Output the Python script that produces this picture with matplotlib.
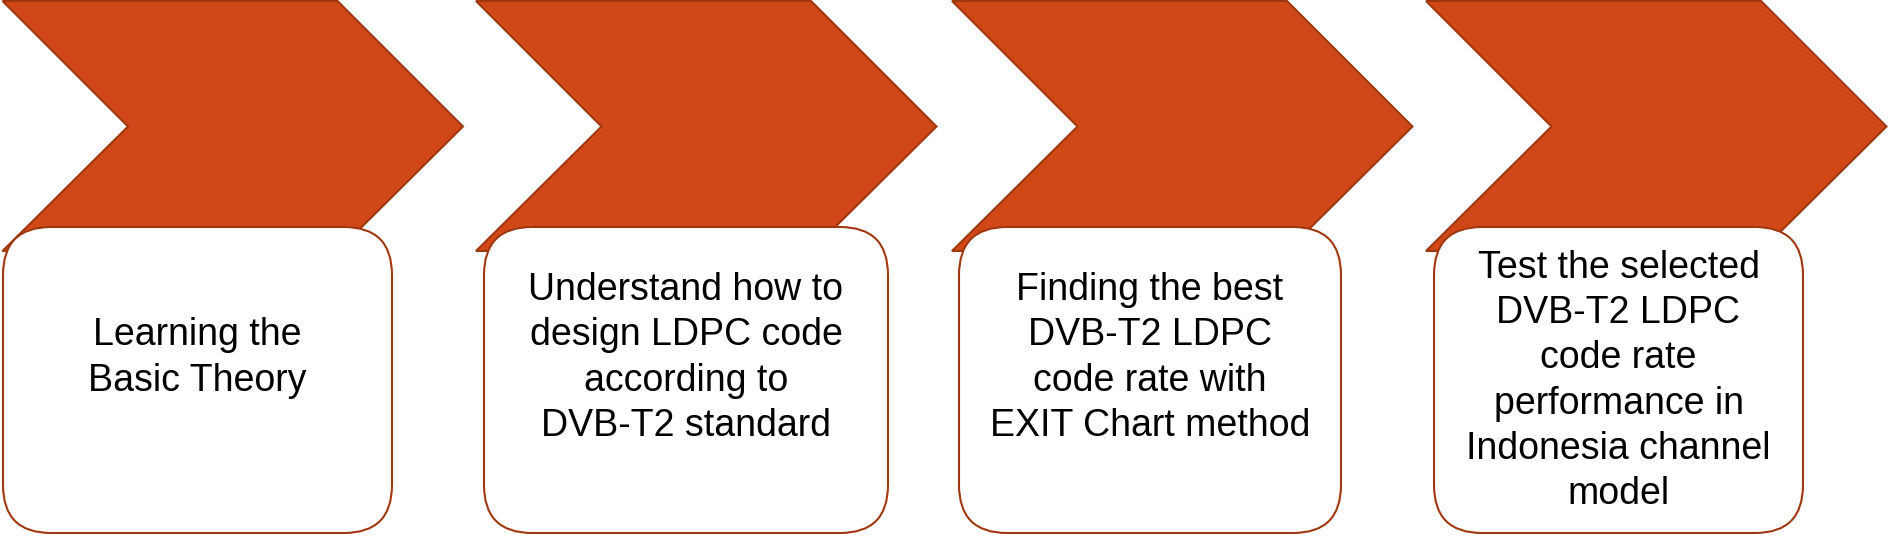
import matplotlib
matplotlib.use('Agg')
import matplotlib.pyplot as plt
from matplotlib.patches import Polygon, FancyBboxPatch

# steps of the flow, left to right
step_labels = [
    "Learning the\nBasic Theory",
    "Understand how to\ndesign LDPC code\naccording to\nDVB-T2 standard",
    "Finding the best\nDVB-T2 LDPC\ncode rate with\nEXIT Chart method",
    "Test the selected\nDVB-T2 LDPC\ncode rate\nperformance in\nIndonesia channel\nmodel",
]

fill_c = '#D14818'
edge_c = '#A0380F'

W, H = 1890, 539
fig = plt.figure(figsize=(W / 100, H / 100), dpi=100)
ax = fig.add_axes([0, 0, 1, 1])
ax.set_xlim(0, W)
ax.set_ylim(H, 0)
ax.axis('off')

chev_x0 = [2.5, 476, 952, 1426]
chev_body, chev_h = 335, 251
box_x = [(3, 392), (484, 888), (959, 1341), (1434, 1803)]
box_top, box_bot, rad = 227, 533, 48

for i, label in enumerate(step_labels):
    x0 = chev_x0[i]
    half = chev_h / 2
    pts = [(x0, 1), (x0 + chev_body, 1), (x0 + chev_body + half, 1 + half),
           (x0 + chev_body, chev_h), (x0, chev_h), (x0 + half, 1 + half)]
    ax.add_patch(Polygon(pts, closed=True, facecolor=fill_c, edgecolor=edge_c,
                         linewidth=1.5, joinstyle='miter'))

    bx0, bx1 = box_x[i]
    ax.add_patch(FancyBboxPatch((bx0 + rad, box_top + rad),
                                bx1 - bx0 - 2 * rad, box_bot - box_top - 2 * rad,
                                boxstyle=f"round,pad={rad},rounding_size={rad}",
                                facecolor='white', edgecolor=edge_c, linewidth=1.5))

    n_lines = label.count('\n') + 1
    yc = 381 if n_lines >= 6 else 358
    ax.text((bx0 + bx1) / 2, yc, label, ha='center', va='center',
            fontsize=27, family='Liberation Sans', color='black', linespacing=1.33)

fig.savefig('out.png', dpi=100)
